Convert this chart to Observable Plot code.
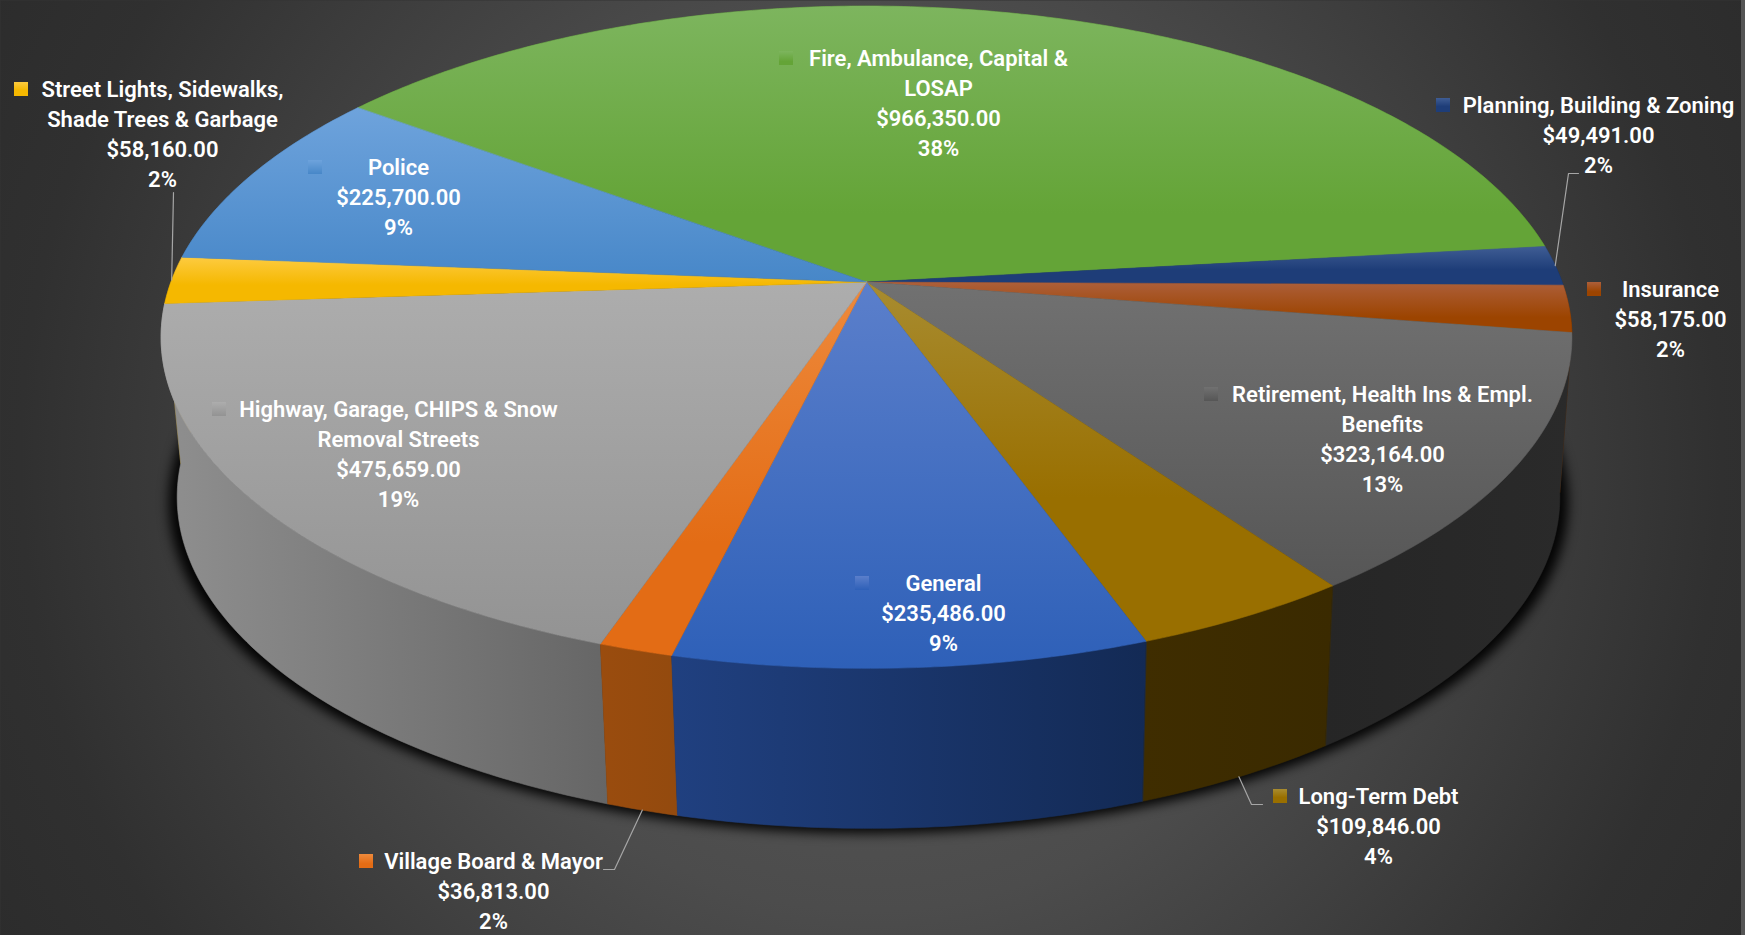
<!DOCTYPE html>
<html><head><meta charset="utf-8">
<script src="https://cdn.jsdelivr.net/npm/d3@7"></script>
<script src="https://cdn.jsdelivr.net/npm/@observablehq/plot@0.6"></script>
<style>html,body{margin:0;padding:0;background:#333;overflow:hidden}svg{display:block}</style>
</head><body><div id="chart"></div>
<script>
// Data
const categories = ["Fire, Ambulance, Capital &\nLOSAP","Planning, Building & Zoning","Insurance","Retirement, Health Ins & Empl.\nBenefits","Long-Term Debt","General","Village Board & Mayor","Highway, Garage, CHIPS & Snow\nRemoval Streets","Street Lights, Sidewalks,\nShade Trees & Garbage","Police"];
const amounts = [966350,49491,58175,323164,109846,235486,36813,475659,58160,225700];
const percents = ["38%","2%","2%","13%","4%","9%","2%","19%","2%","9%"];

// Styles
const topLight = ["#7db55e","#3f5d94","#ad5f3a","#717171","#a88c30","#5b7fcb","#ee8a3c","#adadad","#fdcb40","#6ea3dc"];
const topDark  = ["#64a437","#1e3d78","#9c4400","#565656","#996f00","#2e60b8","#e36c15","#939393","#f5b800","#4787c8"];
const topStop  = [0.75,0.6,0.7,1,0.6,1,0.7,1,0.6,1];
const sideLeft = ["#3a6020","#14284f","#5f2a00","#262626","#3f2d00","#204080","#9a4c0e","#8f8f8f","#8f6c00","#2a5078"];
const sideRight= ["#3a6020","#14284f","#5f2a00","#2a2a2a","#3a2a00","#132a55","#934a0e","#666666","#8f6c00","#2a5078"];

// Layout (chart pixels)
const W = 1745, H = 935;
const cx = 866, cy = 281.6, rX = 695.6, rY = 322, persp = 0.1664;
const depth = 160, bottomScale = 0.98, bottomShift = 2;
const startDeg = -53.5;
const labelCenterX = [938,1598,1670,1382,1378,943,493,398,162,398];
const labelFirstY  = [58,105,289,394,796,583,861,409,89,167];
const keyX         = [786,1443,1594,1211,1280,862,366,219,21,315];
const leaders = [
  {slice:1, t:0.5, rim:"top", elbow:[[1568,173],[1578,173]]},
  {slice:8, t:0.5, rim:"top", elbow:[[173,192]]},
  {slice:6, t:0.5, rim:"bottom", elbow:[[614,869],[603,869]]},
  {slice:4, t:0.5, rim:"bottom", elbow:[[1251,804],[1262,804]]}
];
const fontFamily = "Roboto, sans-serif";

// Geometry: angle (radians from top, clockwise) on the perspective disc
function rim(a, bottom=false){
  const u = Math.sin(a), v = -Math.cos(a), f = 1/(1-persp*v);
  const px = rX*u*f, py = rY*v*f;
  return bottom ? {x:cx+bottomShift+px*bottomScale, y:cy+py+depth} : {x:cx+px, y:cy+py};
}
const arcs = d3.pie().sort(null).startAngle(startDeg*Math.PI/180).endAngle(startDeg*Math.PI/180+2*Math.PI)(amounts);
const samples = (a0,a1)=>{const n=Math.max(4,Math.ceil((a1-a0)*90));return d3.range(n+1).map(i=>a0+(a1-a0)*i/n)};
const slices = arcs.map((d,i)=>{
  const as = samples(d.startAngle,d.endAngle);
  return {
    i,
    mid:(d.startAngle+d.endAngle)/2,
    top:[{x:cx,y:cy},...as.map(a=>rim(a))],
    side:[...as.map(a=>rim(a)),...as.slice().reverse().map(a=>rim(a,true))]
  };
});
const sideOrder = slices.slice().sort((a,b)=>-Math.cos(a.mid)+Math.cos(b.mid));
const bottomOutline = samples(0,2*Math.PI).map(a=>rim(a,true));
const shadowOutline = bottomOutline.map(p=>({x:cx+(p.x-cx)*1.012,y:p.y+5}));

const poly = (pts,fill)=>Plot.line(pts,{x:"x",y:"y",fill,stroke:fill,strokeWidth:0.6,curve:"linear-closed"});

const labels = categories.map((c,i)=>({
  x:labelCenterX[i], y:labelFirstY[i]-14,
  text:`${c}\n${d3.format("$,.2f")(amounts[i])}\n${percents[i]}`
}));
const leaderLines = leaders.map(l=>{
  const d = arcs[l.slice];
  const a = d.startAngle+(d.endAngle-d.startAngle)*l.t;
  const s = rim(a,l.rim==="bottom");
  return [s,...l.elbow.map(([x,y])=>({x,y}))];
});

const chart = Plot.plot({
  width:W, height:H, margin:0,
  x:{domain:[0,W],range:[0,W],axis:null},
  y:{domain:[0,H],range:[0,H],axis:null},
  style:{background:"transparent"},
  marks:[
    Plot.frame({fill:"url(#bg)",stroke:"none"}),
    Plot.rect([{x1:1741,x2:W,y1:0,y2:H}],{x1:"x1",x2:"x2",y1:"y1",y2:"y2",fill:"#555555"}),
    Plot.line(shadowOutline,{x:"x",y:"y",fill:"#000",stroke:"none",curve:"linear-closed",imageFilter:"blur(6px)",fillOpacity:0.95}),
    ...sideOrder.map(s=>poly(s.side,`url(#side${s.i})`)),
    ...slices.map(s=>poly(s.top,`url(#top${s.i})`)),
    ...leaderLines.map(pts=>Plot.line(pts,{x:"x",y:"y",stroke:"#a6a6a6",strokeWidth:1.2,curve:"linear"})),
    ...keyX.map((k,i)=>Plot.rect([{k,y:labelFirstY[i]}],{x1:d=>d.k-7,x2:d=>d.k+7,y1:d=>d.y-7,y2:d=>d.y+7,fill:`url(#top${i})`})),
    Plot.text(labels,{x:"x",y:"y",text:"text",fill:"#fff",fontFamily,fontSize:22,fontWeight:600,lineHeight:1.364,lineAnchor:"top",textAnchor:"middle"})
  ]
});
const defs = d3.select(chart).insert("defs",":first-child");
const bg = defs.append("radialGradient").attr("id","bg").attr("gradientUnits","userSpaceOnUse").attr("cx",870).attr("cy",460).attr("r",1000);
[[0,"#5c5c5c"],[0.45,"#4c4c4c"],[0.85,"#303030"],[1,"#2c2c2c"]].forEach(([o,c])=>bg.append("stop").attr("offset",o).attr("stop-color",c));
categories.forEach((_,i)=>{
  const t = defs.append("linearGradient").attr("id",`top${i}`).attr("x1",0).attr("y1",0).attr("x2",0).attr("y2",1);
  t.append("stop").attr("offset",0).attr("stop-color",topLight[i]);
  t.append("stop").attr("offset",topStop[i]).attr("stop-color",topDark[i]);
  const s = defs.append("linearGradient").attr("id",`side${i}`).attr("x1",0).attr("y1",0).attr("x2",1).attr("y2",0);
  s.append("stop").attr("offset",0).attr("stop-color",sideLeft[i]);
  s.append("stop").attr("offset",1).attr("stop-color",sideRight[i]);
});
document.getElementById("chart").append(chart);
</script>
</body></html>
